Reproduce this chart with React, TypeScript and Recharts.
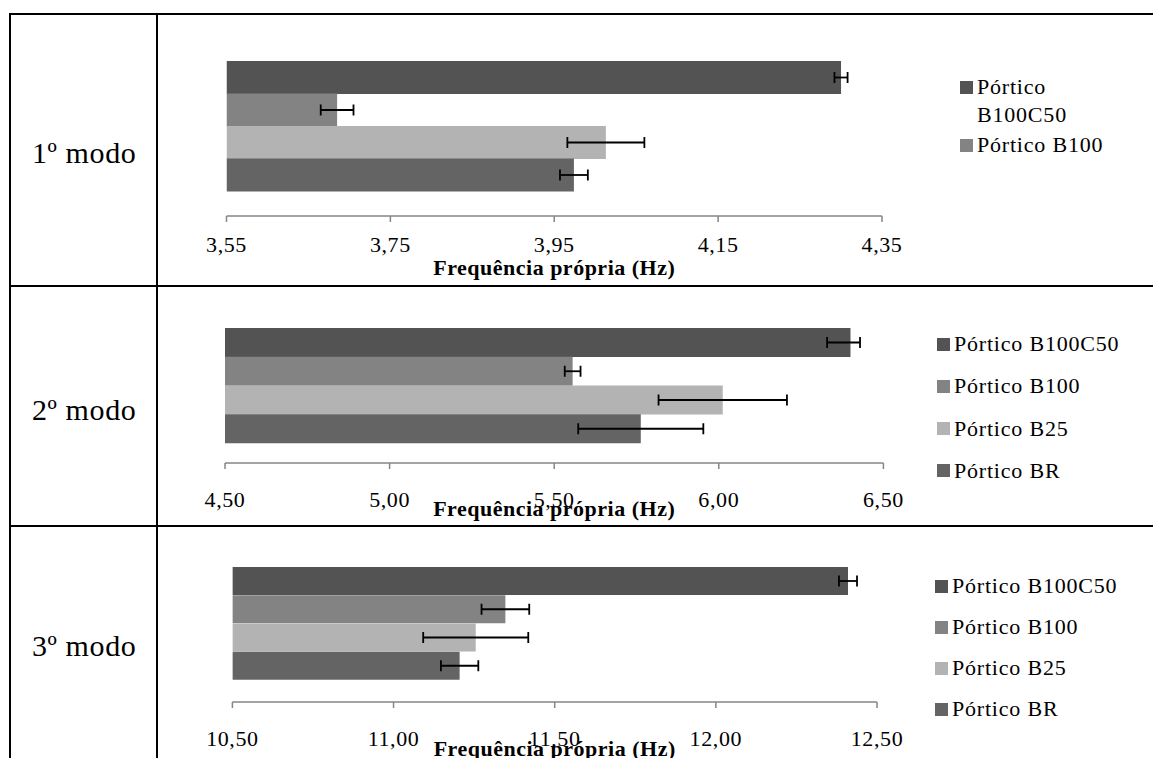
import React from "react";
import { BarChart, Bar, Cell, ErrorBar, XAxis, YAxis } from "recharts";

const FONT = "'Liberation Serif', 'Times New Roman', serif";

// series (top to bottom in each block)
const seriesNames = ["Pórtico B100C50", "Pórtico B100", "Pórtico B25", "Pórtico BR"];
const seriesColors = ["#535353", "#838383", "#b3b3b3", "#646464"];

const modeLabels = ["1º modo", "2º modo", "3º modo"];

// frequencies (Hz) and error bars [below, above]
const mode1Values = [4.3, 3.685, 4.013, 3.974];
const mode1Errors = [[0.008, 0.008], [0.02, 0.02], [0.047, 0.047], [0.017, 0.017]];
const mode2Values = [6.4, 5.556, 6.012, 5.763];
const mode2Errors = [[0.071, 0.029], [0.024, 0.024], [0.195, 0.195], [0.19, 0.19]];
const mode3Values = [12.41, 11.347, 11.255, 11.205];
const mode3Errors = [[0.028, 0.028], [0.074, 0.074], [0.163, 0.163], [0.058, 0.058]];

const mode1Ticks = [3.55, 3.75, 3.95, 4.15, 4.35];
const mode2Ticks = [4.5, 5.0, 5.5, 6.0, 6.5];
const mode3Ticks = [10.5, 11.0, 11.5, 12.0, 12.5];

const axisTitle = "Frequência própria (Hz)";

const CHART_LEFT = 158;
const CHART_WIDTH = 995;

const rows = [
  {
    label: modeLabels[0], values: mode1Values, errors: mode1Errors, ticks: mode1Ticks,
    top: 15, height: 270, margin: { top: 46, right: 271, bottom: 0, left: 68.5 },
    axisHeight: 69, padBottom: 25, tickMargin: 14, titleOffset: 10, labelCenter: 153,
    legend: { left: 960, top: 73, width: 200, height: 86, textWidth: 140, rowGap: 2, lineH: 28 },
  },
  {
    label: modeLabels[1], values: mode2Values, errors: mode2Errors, ticks: mode2Ticks,
    top: 287, height: 238, margin: { top: 41, right: 269.6, bottom: 0, left: 67 },
    axisHeight: 62, padBottom: 20, tickMargin: 22, titleOffset: 9, labelCenter: 410,
    legend: { left: 937, top: 330, width: 216, height: 170, textWidth: 210, rowGap: 14.3, lineH: 28 },
  },
  {
    label: modeLabels[2], values: mode3Values, errors: mode3Errors, ticks: mode3Ticks,
    top: 527, height: 231, margin: { top: 40, right: 276, bottom: 0, left: 74.4 },
    axisHeight: 56, padBottom: 22, tickMargin: 22, titleOffset: 2, labelCenter: 646,
    legend: { left: 935, top: 572, width: 218, height: 170, textWidth: 210, rowGap: 13.1, lineH: 28 },
  },
];

const fmt = (v: number) => v.toFixed(2).replace(".", ",");

function ModeChart({ row }: { row: (typeof rows)[number] }) {
  const data = seriesNames.map((name, i) => ({
    name,
    value: row.values[i],
    err: row.errors[i],
  }));
  const lo = row.ticks[0];
  const hi = row.ticks[row.ticks.length - 1];
  return (
    <div style={{ position: "absolute", left: CHART_LEFT, top: row.top }}>
      <BarChart
        width={CHART_WIDTH}
        height={row.height}
        data={data}
        layout="vertical"
        margin={row.margin}
        barCategoryGap={0}
        barGap={0}
      >
        <YAxis type="category" dataKey="name" hide padding={{ top: 0, bottom: row.padBottom }} />
        <XAxis
          type="number"
          domain={[lo, hi]}
          ticks={row.ticks}
          allowDataOverflow
          tickFormatter={fmt}
          height={row.axisHeight}
          tickMargin={row.tickMargin}
          tickSize={6}
          stroke="#868686"
          axisLine={{ stroke: "#868686", strokeWidth: 1.5 }}
          tickLine={{ stroke: "#868686", strokeWidth: 1.5 }}
          tick={{ fontSize: 22, fill: "#000", fontFamily: FONT, letterSpacing: 0.6 }}
          label={{
            value: axisTitle,
            position: "insideBottom",
            offset: row.titleOffset,
            fill: "#000",
            fontSize: 22,
            fontWeight: "bold",
            fontFamily: FONT,
            letterSpacing: 0.5,
          }}
        />
        <Bar dataKey="value" isAnimationActive={false}>
          {data.map((d, i) => (
            <Cell key={d.name} fill={seriesColors[i]} />
          ))}
          <ErrorBar dataKey="err" direction="x" width={5.5} stroke="#000" strokeWidth={1.8} />
        </Bar>
      </BarChart>
    </div>
  );
}

function ModeLegend({ row }: { row: (typeof rows)[number] }) {
  const lg = row.legend;
  return (
    <div
      style={{
        position: "absolute",
        left: lg.left,
        top: lg.top,
        width: lg.width,
        height: lg.height,
        overflow: "hidden",
        fontFamily: FONT,
        fontSize: 22,
        letterSpacing: 0.8,
        color: "#000",
      }}
    >
      {seriesNames.map((name, i) => (
        <div key={name} style={{ display: "flex", alignItems: "flex-start", marginBottom: lg.rowGap }}>
          <div
            style={{
              width: 13,
              height: 13,
              marginTop: (lg.lineH - 13) / 2,
              background: seriesColors[i],
              flex: "none",
            }}
          />
          <div style={{ marginLeft: 4, width: lg.textWidth, lineHeight: `${lg.lineH}px` }}>{name}</div>
        </div>
      ))}
    </div>
  );
}

const line = (l: number, t: number, w: number, h: number) => (
  <div key={`${l}-${t}-${w}-${h}`} style={{ position: "absolute", left: l, top: t, width: w, height: h, background: "#000" }} />
);

export default function App() {
  return (
    <div
      style={{
        position: "absolute",
        left: 0,
        top: 0,
        width: 1153,
        height: 758,
        overflow: "hidden",
        background: "#fff",
        fontFamily: FONT,
      }}
    >
      {rows.map((row) => (
        <React.Fragment key={row.label}>
          <ModeChart row={row} />
          <ModeLegend row={row} />
          <div
            style={{
              position: "absolute",
              left: 32,
              top: row.labelCenter - 15,
              fontSize: 30,
              lineHeight: "30px",
              letterSpacing: 0.6,
              whiteSpace: "nowrap",
            }}
          >
            {row.label}
          </div>
        </React.Fragment>
      ))}
      {line(9, 13, 1144, 2)}
      {line(9, 13, 2, 745)}
      {line(156, 13, 2, 745)}
      {line(9, 285, 1144, 2)}
      {line(9, 525, 1144, 2)}
    </div>
  );
}
